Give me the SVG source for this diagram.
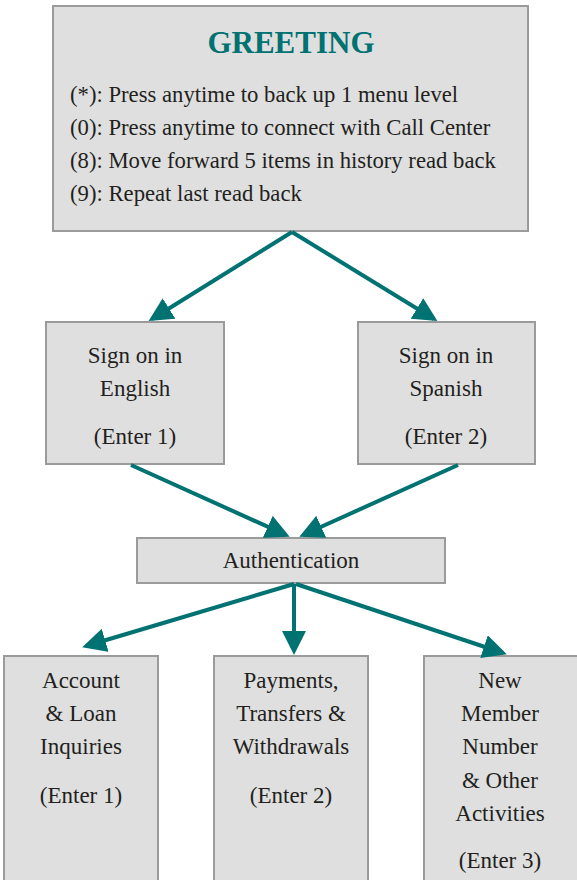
<svg xmlns="http://www.w3.org/2000/svg" width="577" height="880" viewBox="0 0 577 880">
<defs>
<style>
.box{fill:#dfdfdf;stroke:#9b9b9b;stroke-width:2}
.t{font-family:"Liberation Serif","Times New Roman",serif;font-size:23px;fill:#231f20;text-anchor:middle}
.l{font-family:"Liberation Serif","Times New Roman",serif;font-size:22.7px;fill:#231f20}
.title{font-family:"Liberation Serif","Times New Roman",serif;font-size:31px;font-weight:bold;fill:#007272;text-anchor:middle}
.c{stroke:#007272;stroke-width:4;fill:none}
</style>
<marker id="ah" markerWidth="6" markerHeight="6" refX="5" refY="3" orient="auto" markerUnits="strokeWidth">
<path d="M0,0 L6,3 L0,6 Z" fill="#007272"/>
</marker>
</defs>
<rect width="577" height="880" fill="#ffffff"/>
<g id="greeting">
<rect class="box" x="53" y="6" width="475" height="225"/>
<text class="title" x="291" y="53">GREETING</text>
<text class="l" x="70" y="102">(*): Press anytime to back up 1 menu level</text>
<text class="l" x="70" y="135">(0): Press anytime to connect with Call Center</text>
<text class="l" x="70" y="168">(8): Move forward 5 items in history read back</text>
<text class="l" x="70" y="201">(9): Repeat last read back</text>
</g>
<g id="english">
<rect class="box" x="46" y="322" width="178" height="142"/>
<text class="t" x="135" y="363">Sign on in</text>
<text class="t" x="135" y="396">English</text>
<text class="t" x="135" y="444">(Enter 1)</text>
</g>
<g id="spanish">
<rect class="box" x="358" y="322" width="177" height="142"/>
<text class="t" x="446" y="363">Sign on in</text>
<text class="t" x="446" y="396">Spanish</text>
<text class="t" x="446" y="444">(Enter 2)</text>
</g>
<g id="auth">
<rect class="box" x="137" y="538" width="308" height="45"/>
<text class="t" x="291" y="568">Authentication</text>
</g>
<g id="account">
<rect class="box" x="4" y="656" width="154" height="250"/>
<text class="t" x="81" y="688">Account</text>
<text class="t" x="81" y="721">&amp; Loan</text>
<text class="t" x="81" y="754">Inquiries</text>
<text class="t" x="81" y="803">(Enter 1)</text>
</g>
<g id="payments">
<rect class="box" x="214" y="656" width="154" height="250"/>
<text class="t" x="291" y="688">Payments,</text>
<text class="t" x="291" y="721">Transfers &amp;</text>
<text class="t" x="291" y="754">Withdrawals</text>
<text class="t" x="291" y="803">(Enter 2)</text>
</g>
<g id="newmember">
<rect class="box" x="424" y="656" width="160" height="250"/>
<text class="t" x="500" y="688">New</text>
<text class="t" x="500" y="721">Member</text>
<text class="t" x="500" y="754">Number</text>
<text class="t" x="500" y="788">&amp; Other</text>
<text class="t" x="500" y="821">Activities</text>
<text class="t" x="500" y="868">(Enter 3)</text>
</g>
<g id="connectors">
<line class="c" x1="292" y1="232" x2="152" y2="319" marker-end="url(#ah)"/>
<line class="c" x1="292" y1="232" x2="434" y2="319" marker-end="url(#ah)"/>
<line class="c" x1="131" y1="465" x2="286" y2="535" marker-end="url(#ah)"/>
<line class="c" x1="458" y1="465" x2="303" y2="535" marker-end="url(#ah)"/>
<line class="c" x1="294" y1="584" x2="86" y2="646" marker-end="url(#ah)"/>
<line class="c" x1="294" y1="584" x2="294" y2="651" marker-end="url(#ah)"/>
<line class="c" x1="296" y1="584" x2="503" y2="653" marker-end="url(#ah)"/>
</g>
</svg>
